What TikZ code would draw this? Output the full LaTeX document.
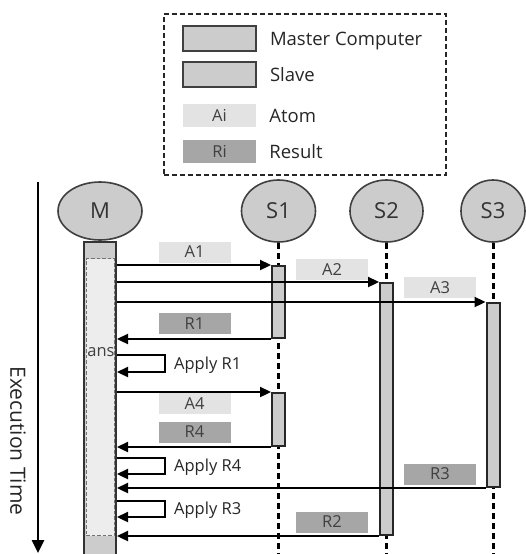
\documentclass[tikz,border=0pt]{standalone}
\usepackage{fontspec}
\setmainfont{Open Sans}
\usetikzlibrary{arrows.meta, positioning, shapes.geometric}

\definecolor{procgray}{gray}{0.80}
\definecolor{atomgray}{gray}{0.89}
\definecolor{resultgray}{gray}{0.65}
\definecolor{zonegray}{gray}{0.93}

\begin{document}
\begin{tikzpicture}[
    x=1pt, y=-1pt,
    process/.style={ellipse, draw=black!75, line width=1.6pt, fill=procgray, text=black!80, font=\fontsize{22}{26}\selectfont, minimum width=74pt, minimum height=62pt, inner sep=0pt},
    masterbar/.style={rectangle, draw=black!80, line width=2pt, fill=procgray, minimum width=32pt, inner sep=0pt, anchor=north},
    slavebar/.style={rectangle, draw=black!85, line width=2pt, fill=procgray, minimum width=13pt, inner sep=0pt, anchor=north},
    zone/.style={rectangle, draw=black!55, line width=1pt, dash pattern=on 3.5pt off 2pt, fill=zonegray, minimum width=28pt, inner sep=0pt, anchor=north},
    atom/.style={rectangle, fill=atomgray, minimum width=72pt, minimum height=21pt, inner sep=0pt, text=black!75, font=\fontsize{16.5}{19}\selectfont},
    result/.style={atom, fill=resultgray},
    keybox/.style={rectangle, draw=black!75, line width=1.6pt, fill=procgray, minimum width=73pt, minimum height=25pt, inner sep=0pt},
    keytext/.style={anchor=west, text=black!85, font=\fontsize{18.5}{22}\selectfont, inner sep=0pt, text height=14pt, text depth=0pt},
    lifeline/.style={line width=3pt, dash pattern=on 6pt off 4pt},
    msg/.style={-{Triangle[length=11pt, width=10pt]}, line width=2.3pt},
    applytext/.style={anchor=west, font=\fontsize{16.5}{19}\selectfont, inner sep=0pt, text=black!85, text height=11.8pt, text depth=0pt},
    timeline/.style={-{Triangle[length=13pt, width=12pt]}, line width=2.5pt}
]
\useasboundingbox (0,0) rectangle (525,554);

% Legend
\node[draw=black!85, line width=2pt, dash pattern=on 5pt off 3pt, minimum width=282pt, minimum height=161pt, inner sep=0pt] (KeyFrame) at (305,94.5) {};
\node[keybox] (KeyMaster) at (219.5,38.5) {};
\node[keytext, right=13pt of KeyMaster] (KeyMasterText) {Master Computer};
\node[keybox] (KeySlave) at (219.5,74.5) {};
\node[keytext, right=13pt of KeySlave] (KeySlaveText) {Slave};
\node[atom, minimum width=73pt, minimum height=23pt] (KeyAtom) at (219.5,115.5) {Ai};
\node[keytext, right=13pt of KeyAtom] (KeyAtomText) {Atom};
\node[result, minimum width=73pt, minimum height=23pt] (KeyResult) at (219.5,151.5) {Ri};
\node[keytext, right=13pt of KeyResult] (KeyResultText) {Result};

% Time axis
\coordinate (TimeStart) at (38,182);
\coordinate (TimeEnd) at (38,553);
\draw[timeline] (TimeStart) -- (TimeEnd);
\node[rotate=-90, text=black!85, font=\fontsize{21}{25}\selectfont] (TimeLabel) at (18,441) {Execution Time};

% Nodes
\node[process, minimum width=84pt, minimum height=58pt] (M) at (100,211) {M};
\node[process] (S1) at (278.5,211) {S1};
\node[process, minimum width=73pt] (S2) at (386.5,211) {S2};
\node[process, minimum width=64pt] (S3) at (493,211) {S3};

\draw[lifeline] (S1.south) -- (S1.south |- 0,554);
\draw[lifeline] (S2.south) -- (S2.south |- 0,554);
\draw[lifeline] (S3.south) -- (S3.south |- 0,554);

\node[masterbar, minimum height=320pt] (MBar) at (M.south) {};
\node[zone, minimum height=277pt] (AtomZone) at (MBar.north |- 0,258) {};
\node[text=black!75, font=\fontsize{16.5}{19}\selectfont, inner sep=0pt] (Ans) at (101,352) {ans};

\node[slavebar, minimum height=72pt] (S1Run1) at (S1.south |- 0,265) {};
\node[slavebar, minimum height=53pt] (S1Run2) at (S1.south |- 0,392) {};
\node[slavebar, minimum height=252pt] (S2Run) at (S2.south |- 0,282) {};
\node[slavebar, minimum height=184pt] (S3Run) at (S3.south |- 0,302) {};

\node[atom] (A1) at (194.5,252) {A1};
\node[atom] (A2) at (332,269.5) {A2};
\node[atom] (A3) at (440,287.5) {A3};
\node[result] (R1) at (194.5,323.5) {R1};
\node[atom] (A4) at (194.5,403.5) {A4};
\node[result] (R4) at (194.5,432) {R4};
\node[result] (R3) at (440,474) {R3};
\node[result] (R2) at (332,522) {R2};

% Edges
\draw[msg] (MBar.east |- S1Run1.north) -- (S1Run1.north west);
\draw[msg] (MBar.east |- S2Run.north) -- (S2Run.north west);
\draw[msg] (MBar.east |- S3Run.north) -- (S3Run.north west);
\draw[msg] (S1Run1.south west) -- (MBar.east |- S1Run1.south);
\draw[msg] (MBar.east |- S1Run2.north) -- (S1Run2.north west);
\draw[msg] (S1Run2.south west) -- (MBar.east |- S1Run2.south);
\draw[msg] (S3Run.south west) -- (MBar.east |- S3Run.south);
\draw[msg] (S2Run.south west) -- (MBar.east |- S2Run.south);

% Self loops
\coordinate (ApplyR1) at (MBar.east |- 0,355);
\coordinate (ApplyR4) at (MBar.east |- 0,458);
\coordinate (ApplyR3) at (MBar.east |- 0,501);
\draw[msg] (ApplyR1) -- ++(48,0) -- ++(0,17) node[applytext, midway, right=8pt] (ApplyR1Text) {Apply R1} -- ++(-48,0);
\draw[msg] (ApplyR4) -- ++(48,0) -- ++(0,16) node[applytext, midway, right=8pt] (ApplyR4Text) {Apply R4} -- ++(-48,0);
\draw[msg] (ApplyR3) -- ++(48,0) -- ++(0,16) node[applytext, midway, right=8pt] (ApplyR3Text) {Apply R3} -- ++(-48,0);

\end{tikzpicture}
\end{document}
